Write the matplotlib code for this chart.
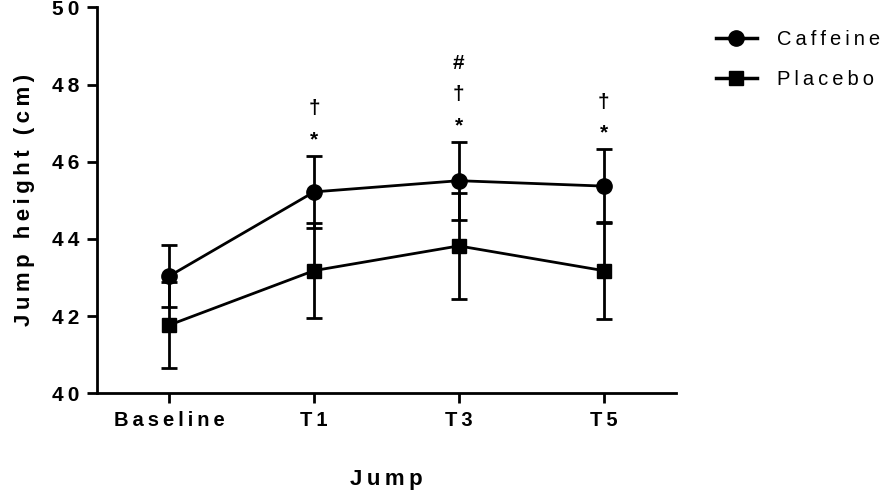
import matplotlib
matplotlib.use('Agg')
import matplotlib.pyplot as plt
from matplotlib.lines import Line2D
import numpy as np

# data
jumps = ['Baseline', 'T1', 'T3', 'T5']
caffeine_mean = [43.04, 45.22, 45.51, 45.37]
caffeine_sd = [0.80, 0.93, 1.01, 0.95]
placebo_mean = [41.77, 43.18, 43.82, 43.18]
placebo_sd = [1.11, 1.24, 1.38, 1.26]
# significance marks above caffeine points (bottom to top)
marks = [[], ['*', '†'], ['*', '†', '#'], ['*', '†']]

SP = '\u2009'

def spaced(s):
    return SP.join(list(s))

plt.rcParams['font.family'] = ['Liberation Sans', 'DejaVu Sans']

fig = plt.figure(figsize=(8.94, 4.95), dpi=100)
ax = fig.add_axes([0.1085, 0.2054, 0.6475, 0.7796])

x = np.arange(len(jumps))
ax.errorbar(x, placebo_mean, yerr=placebo_sd, color='black', marker='s', ms=10,
            lw=2, elinewidth=2, capsize=6, capthick=2, zorder=3)
ax.errorbar(x, caffeine_mean, yerr=caffeine_sd, color='black', marker='o', ms=11,
            lw=2, elinewidth=2, capsize=6, capthick=2, zorder=4)

for i, m in enumerate(marks):
    top = caffeine_mean[i] + caffeine_sd[i]
    for k, s in enumerate(m):
        ax.text(x[i], top + 0.42 + 0.8 * k, s, ha='center', va='center',
                fontsize=15, fontweight='bold')

ax.set_xlim(-0.5, 3.5)
ax.set_ylim(40, 50)
ax.set_yticks([40, 42, 44, 46, 48, 50])
ax.set_xticks(x)
ax.set_xticklabels([spaced(j) for j in jumps], fontsize=14.5, fontweight='bold')
ax.set_yticklabels([spaced(str(v)) for v in [40, 42, 44, 46, 48, 50]],
                   fontsize=15, fontweight='bold')
ax.set_ylabel(spaced('Jump height (cm)'), fontsize=16, fontweight='bold', labelpad=12)
ax.set_xlabel(spaced('Jump'), fontsize=16, fontweight='bold', labelpad=28)

for side in ['top', 'right']:
    ax.spines[side].set_visible(False)
for side in ['left', 'bottom']:
    ax.spines[side].set_linewidth(2)
ax.tick_params(width=2, length=7, pad=6)

handles = [Line2D([], [], color='black', marker='o', ms=11, lw=2.5),
           Line2D([], [], color='black', marker='s', ms=10, lw=2.5)]
fig.legend(handles, [spaced('Caffeine'), spaced('Placebo')], loc='upper left',
           bbox_to_anchor=(0.781, 0.976), frameon=False, fontsize=14.5,
           handlelength=2.0, labelspacing=1.05, handletextpad=1.0)

fig.savefig('out.png', dpi=100)
